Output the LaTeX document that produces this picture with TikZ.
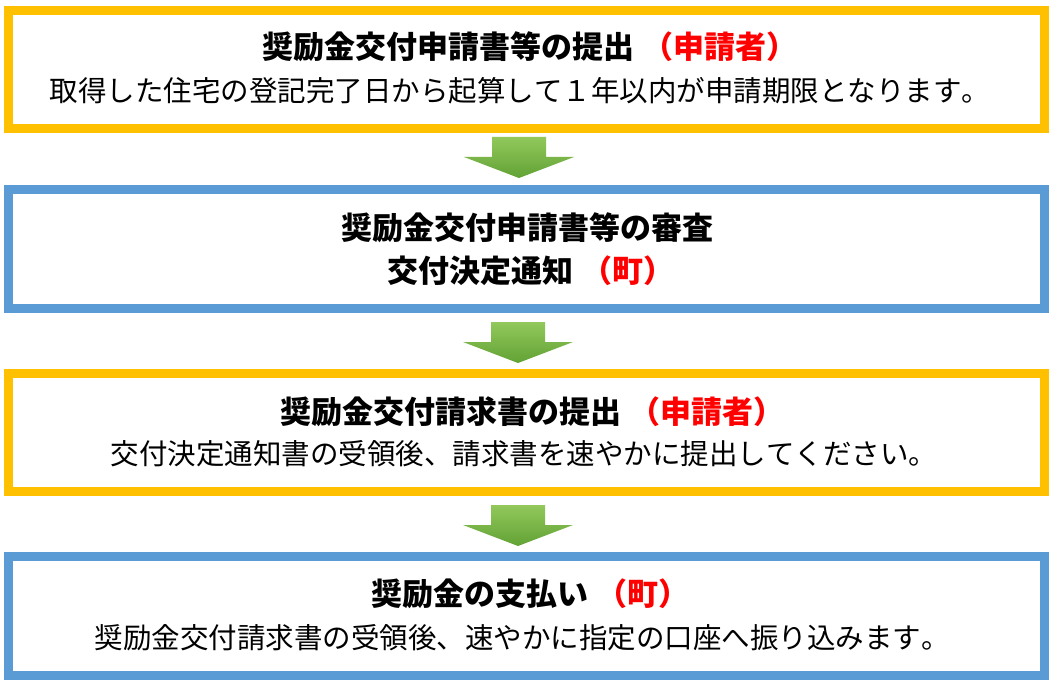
\documentclass[tikz,border=0pt]{standalone}
\usepackage{fontspec}
\newfontfamily\jpfont[Kerning=Off]{Noto Sans CJK JP}
\newfontfamily\jpheavy[Kerning=Off]{Noto Sans CJK JP Black}
\definecolor{boxyellow}{HTML}{FFC000}
\definecolor{boxblue}{HTML}{5B9BD5}
\definecolor{markred}{HTML}{FF0000}
\definecolor{arrowtop}{RGB}{146,200,92}
\definecolor{arrowbot}{RGB}{98,162,52}
\newcommand{\redpart}[1]{\kern8pt{\color{markred}#1}}
\begin{document}
\begin{tikzpicture}[x=1pt,y=-1pt,
  stepbox/.style={draw=#1, line width=9pt, minimum width=1036pt, minimum height=118.5pt, inner sep=0pt, fill=white},
  titletext/.style={font=\jpheavy\fontsize{31}{36}\selectfont, inner sep=0pt},
  bodytext/.style={font=\jpfont\fontsize{28.5}{34}\selectfont, inner sep=0pt},
  flowarrow/.pic={\shade[top color=arrowtop,bottom color=arrowbot] (-27,0) -- (27,0) -- (27,20) -- (55,20) -- (0,41) -- (-55,20) -- (-27,20) -- cycle;}
]
\useasboundingbox[fill=white] (0,0) rectangle (1057,687);
% boxes
\node[stepbox=boxyellow] (box1) at (526.5,69.5) {};
\node[stepbox=boxblue]   (box2) at (526.5,249) {};
\node[stepbox=boxyellow] (box3) at (526.5,432.5) {};
\node[stepbox=boxblue]   (box4) at (526.5,616) {};
% arrows
\pic at (519,137) {flowarrow};
\pic at (518,322) {flowarrow};
\pic at (518,505) {flowarrow};
% texts
\node[titletext] (t1) at (530,47) {奨励金交付申請書等の提出\redpart{（申請者）}};
\node[bodytext]  (b1) at (520,91) {取得した住宅の登記完了日から起算して１年以内が申請期限となります。};
\node[titletext] (t2a) at (527,228) {奨励金交付申請書等の審査};
\node[titletext] (t2b) at (531,271) {交付決定通知\redpart{（町）}};
\node[titletext] (t3) at (532,412) {奨励金交付請求書の提出\redpart{（申請者）}};
\node[bodytext]  (b3) at (524,454) {交付決定通知書の受領後、請求書を速やかに提出してください。};
\node[titletext] (t4) at (530,594) {奨励金の支払い\redpart{（町）}};
\node[bodytext]  (b4) at (522,638) {奨励金交付請求書の受領後、速やかに指定の口座へ振り込みます。};
\end{tikzpicture}
\end{document}
